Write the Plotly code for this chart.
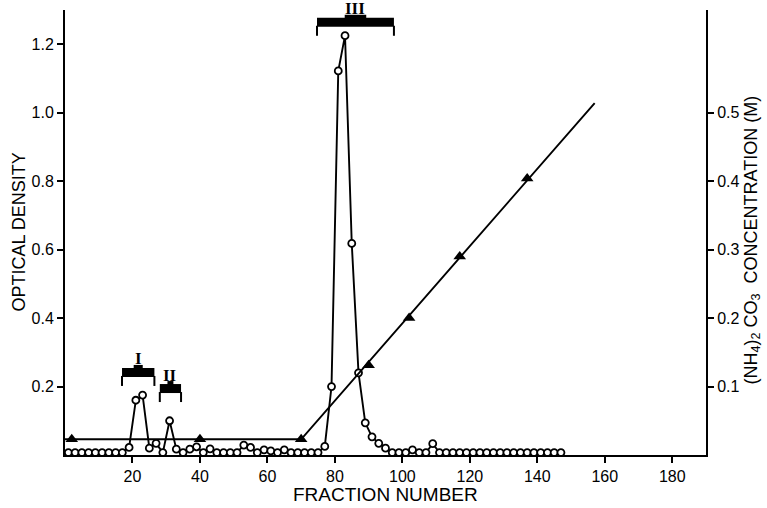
import plotly.graph_objects as go

# ---------------- data ----------------
fractions = list(range(1, 148, 2))
optical_density = [
    0.007, 0.007, 0.007, 0.007, 0.007, 0.007, 0.007, 0.007, 0.007, 0.022,
    0.160, 0.175, 0.020, 0.034, 0.007, 0.100, 0.017, 0.007, 0.017, 0.024,
    0.007, 0.018, 0.007, 0.007, 0.007, 0.007, 0.029, 0.022, 0.007, 0.015,
    0.012, 0.007, 0.015, 0.007, 0.007, 0.007, 0.007, 0.007, 0.025, 0.200,
    1.122, 1.225, 0.618, 0.240, 0.094, 0.053, 0.034, 0.020, 0.007, 0.007,
    0.007, 0.015, 0.007, 0.007, 0.033,
    0.007, 0.007, 0.007, 0.007, 0.007, 0.007, 0.007, 0.007, 0.007, 0.007,
    0.007, 0.007, 0.007, 0.007, 0.007, 0.007, 0.007, 0.007, 0.007,
]

salt_fractions = [2, 40, 70, 90, 102, 117, 137]
salt_conc = [0.023, 0.023, 0.023, 0.131, 0.200, 0.290, 0.404]

gradient_x = [0, 70, 157]
gradient_y = [0.023, 0.023, 0.514]

pool_labels = ["I", "II", "III"]
pool_start = [16.9, 28.1, 74.7]
pool_end = [26.5, 34.4, 97.5]
pool_od = [0.228, 0.181, 1.251]

x_ticks = [20, 40, 60, 80, 100, 120, 140, 160, 180]
od_ticks = [0.2, 0.4, 0.6, 0.8, 1.0, 1.2]
od_ticktext = ["0.2", "0.4", "0.6", "0.8", "1.0", "1.2"]
conc_ticks = [0.1, 0.2, 0.3, 0.4, 0.5]
conc_ticktext = ["0.1", "0.2", "0.3", "0.4", "0.5"]

x_title = "FRACTION NUMBER"
od_title = "OPTICAL DENSITY"
conc_title = "(NH<sub>4</sub>)<sub>2</sub> CO<sub>3</sub>  CONCENTRATION (M)"

# ---------------- figure ----------------
FONT = "Liberation Sans"
fig = go.Figure()

fig.add_trace(go.Scatter(
    x=gradient_x, y=gradient_y, yaxis="y2", mode="lines",
    line=dict(color="black", width=1.9), cliponaxis=False, showlegend=False,
))
fig.add_trace(go.Scatter(
    x=fractions, y=optical_density, mode="lines+markers",
    line=dict(color="black", width=1.9),
    marker=dict(symbol="circle", size=7, color="white",
                line=dict(color="black", width=1.8)),
    cliponaxis=False, showlegend=False,
))
fig.add_trace(go.Scatter(
    x=salt_fractions, y=salt_conc, yaxis="y2", mode="markers",
    marker=dict(symbol="triangle-up", size=11, color="black"),
    cliponaxis=False, showlegend=False,
))

shapes = []
annotations = []
for lab, s, e, yb in zip(pool_labels, pool_start, pool_end, pool_od):
    c = (s + e) / 2
    w = e - s
    shapes.append(dict(type="rect", xref="x", yref="y", ysizemode="pixel",
                       yanchor=yb, x0=s, x1=e, y0=0, y1=9,
                       fillcolor="black", line=dict(width=0)))
    shapes.append(dict(type="rect", xref="x", yref="y", ysizemode="pixel",
                       yanchor=yb, x0=c - 0.14 * w, x1=c + 0.14 * w, y0=8, y1=12,
                       fillcolor="black", line=dict(width=0)))
    for xe in (s, e):
        shapes.append(dict(type="line", xref="x", yref="y", ysizemode="pixel",
                           yanchor=yb, x0=xe, x1=xe, y0=-9, y1=1,
                           line=dict(color="black", width=2)))
    annotations.append(dict(x=c, y=yb, xref="x", yref="y", text="<b>%s</b>" % lab,
                            showarrow=False, yshift=18, yanchor="middle",
                            font=dict(family="Liberation Serif", size=17, color="#000000")))

annotations.append(dict(x=0.5, y=0, xref="paper", yref="paper", text=x_title,
                        showarrow=False, yanchor="top", yshift=-27,
                        font=dict(size=19, color="black")))
annotations.append(dict(x=0, y=0.5, xref="paper", yref="paper", text=od_title,
                        showarrow=False, textangle=-90, xanchor="center",
                        xshift=-47, yshift=0,
                        font=dict(size=18, color="black")))
annotations.append(dict(x=1, y=0.5, xref="paper", yref="paper", text=conc_title,
                        showarrow=False, textangle=-90, xanchor="center",
                        xshift=46, yshift=-8,
                        font=dict(size=18, color="black")))

axis_common = dict(showgrid=False, zeroline=False, automargin=False,
                   showline=True, linecolor="black", linewidth=2,
                   ticks="outside", ticklen=6, tickwidth=1.5, tickcolor="black",
                   tickfont=dict(size=16))

fig.update_layout(
    width=767, height=508,
    margin=dict(l=65, r=61, t=10, b=53),
    paper_bgcolor="white", plot_bgcolor="white",
    font=dict(family=FONT, color="black", size=15),
    shapes=shapes, annotations=annotations,
    xaxis=dict(range=[0, 190], tickvals=x_ticks, **axis_common),
    yaxis=dict(range=[0, 1.3], tickvals=od_ticks, ticktext=od_ticktext, **axis_common),
    yaxis2=dict(range=[0, 0.65], overlaying="y", side="right",
                tickvals=conc_ticks, ticktext=conc_ticktext, **axis_common),
)

fig.write_html("out.html", config={"displayModeBar": False},
               post_script="document.body.style.margin='0px';document.body.style.overflow='hidden';")
